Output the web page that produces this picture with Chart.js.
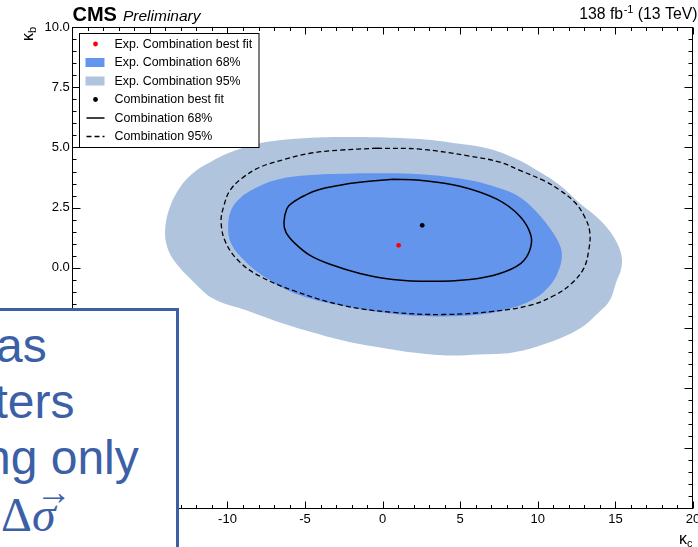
<!DOCTYPE html>
<html><head><meta charset="utf-8">
<script src="https://cdn.jsdelivr.net/npm/chart.js@4.4.0/dist/chart.umd.min.js"></script>
<style>
html,body{margin:0;padding:0;background:#fff;overflow:hidden;width:698px;height:547px;}
#wrap{position:absolute;left:0;top:0;width:698px;height:547px;}
#box{position:absolute;left:-10px;top:308px;width:189px;height:260px;box-sizing:border-box;border:3px solid #3b60a6;background:#fff;z-index:2;}
.ov{position:absolute;font-family:"Liberation Sans",Arial,sans-serif;font-size:48px;line-height:56px;color:#3b60a6;white-space:nowrap;z-index:3;}
</style></head>
<body>
<div id="wrap"><canvas id="c" width="698" height="547"></canvas></div>
<div id="box"></div>
<div class="ov" style="left:-4px;top:318px">as</div>
<div class="ov" style="left:-5.5px;top:374px">ters</div>
<div class="ov" style="left:-16px;top:430px">ng only</div>
<div class="ov" style="left:1px;top:487px;font-family:'Liberation Serif',serif">Δ<span style="position:relative;font-style:italic">σ<span style="position:absolute;left:4px;top:-24px;font-size:36px;font-style:normal;font-family:'Liberation Sans',sans-serif">→</span></span></div>
<script>
// ---- data (kappa_c, kappa_b) ----
const expBest = [[1.03, 0.93]];
const combBest = [[2.55, 1.76]];
const exp95 = [[-0.17,5.43],[2.40,5.35],[4.66,5.18],[6.72,4.97],[8.52,4.55],[9.94,4.05],[11.42,3.43],[12.70,2.68],[13.67,2.18],[14.44,1.68],[15.09,1.05],[15.41,0.43],[15.35,-0.11],[15.09,-0.53],[14.64,-1.36],[13.99,-1.82],[12.70,-2.53],[10.58,-3.15],[8.39,-3.53],[6.26,-3.61],[4.14,-3.65],[1.95,-3.53],[-0.17,-3.32],[-2.30,-3.07],[-4.49,-2.70],[-6.61,-2.28],[-8.74,-1.78],[-10.93,-1.28],[-12.28,-0.53],[-13.36,0.22],[-13.88,0.85],[-14.02,1.52],[-13.75,2.45],[-13.05,3.35],[-12.15,3.97],[-11.12,4.39],[-9.60,4.85],[-7.90,5.18],[-5.65,5.36],[-3.59,5.43]];
const exp68 = [[-1.46,3.93],[2.40,3.89],[5.62,3.64],[7.55,3.30],[8.84,2.93],[9.81,2.39],[10.78,1.64],[11.42,0.93],[11.55,0.43],[11.29,-0.20],[10.78,-0.74],[9.81,-1.28],[8.20,-1.70],[6.27,-1.95],[3.69,-2.03],[1.11,-1.95],[-2.11,-1.65],[-5.33,-1.15],[-7.58,-0.40],[-9.06,0.39],[-9.77,1.01],[-9.96,1.64],[-9.77,2.39],[-9.19,2.89],[-8.22,3.30],[-6.94,3.64],[-4.68,3.85]];
const comb95 = [[-0.37,4.97],[2.40,4.93],[5.62,4.64],[7.55,4.39],[8.84,4.05],[10.45,3.60],[11.42,3.22],[12.38,2.72],[13.03,2.10],[13.35,1.47],[13.28,0.72],[12.96,-0.03],[12.19,-0.65],[11.09,-1.15],[9.48,-1.57],[7.10,-1.82],[3.88,-1.95],[0.66,-1.86],[-2.56,-1.57],[-5.78,-0.95],[-7.90,-0.36],[-9.19,0.22],[-10.09,1.01],[-10.41,1.89],[-10.22,2.60],[-9.83,3.22],[-9.06,3.72],[-7.90,4.18],[-6.29,4.51],[-4.68,4.76],[-2.75,4.89]];
const comb68 = [[0.66,3.68],[2.40,3.64],[4.98,3.39],[7.36,2.85],[8.84,2.14],[9.55,1.35],[9.48,0.72],[8.91,0.18],[7.55,-0.24],[5.62,-0.49],[3.05,-0.57],[0.66,-0.49],[-1.46,-0.24],[-3.39,0.14],[-4.68,0.51],[-5.65,1.01],[-6.23,1.47],[-6.36,1.89],[-6.16,2.47],[-5.78,2.72],[-5.00,3.01],[-4.23,3.22],[-2.75,3.43],[-1.46,3.55]];
const legendLabels = ['Exp. Combination best fit','Exp. Combination 68%','Exp. Combination 95%','Combination best fit','Combination 68%','Combination 95%'];
const kcTicks = [-20,-15,-10,-5,0,5,10,15,20];
const kbTicks = [-10,-7.5,-5,-2.5,0,2.5,5,7.5,10];
const xRange = [-20, 20];
const yRange = [-10, 10];

const FONT = '"Liberation Sans", Arial, Helvetica, sans-serif';
Chart.defaults.font.family = FONT;
Chart.defaults.color = '#000';

const pts = a => a.map(([x, y]) => ({x, y}));
const closed = a => pts(a.concat([a[0]]));

const LIGHT = '#B0C4DE', DARK = '#6495ED';

const datasets = [
  {label: legendLabels[0], data: pts(expBest), pointRadius: 2.4, pointBackgroundColor: '#ff0000', pointBorderWidth: 0, showLine: false, order: 0, kind: 'point', color: '#ff0000'},
  {label: legendLabels[3], data: pts(combBest), pointRadius: 2.4, pointBackgroundColor: '#000', pointBorderWidth: 0, showLine: false, order: 0, kind: 'point', color: '#000'},
  {label: legendLabels[4], data: closed(comb68), showLine: true, borderColor: '#000', borderWidth: 1.5, pointRadius: 0, fill: false, tension: 0.38, order: 1, kind: 'line', color: '#000', dash: []},
  {label: legendLabels[5], data: closed(comb95), showLine: true, borderColor: '#000', borderWidth: 1.3, borderDash: [5, 3], pointRadius: 0, fill: false, tension: 0.38, order: 2, kind: 'line', color: '#000', dash: [5, 3]},
  {label: legendLabels[1], data: closed(exp68), showLine: true, borderColor: 'rgba(0,0,0,0)', borderWidth: 0, backgroundColor: DARK, pointRadius: 0, fill: 'shape', tension: 0.38, order: 3, kind: 'fill', color: DARK},
  {label: legendLabels[2], data: closed(exp95), showLine: true, borderColor: 'rgba(0,0,0,0)', borderWidth: 0, backgroundColor: LIGHT, pointRadius: 0, fill: 'shape', tension: 0.38, order: 4, kind: 'fill', color: LIGHT}
];

const decor = {
  id: 'decor',
  afterDatasetsDraw(chart) {
    const ctx = chart.ctx, a = chart.chartArea, xs = chart.scales.x, ys = chart.scales.y;
    const L = Math.round(a.left) + 0.5, R = Math.round(a.right) - 0.5, T = Math.round(a.top) + 0.5, B = Math.round(a.bottom) + 0.5;
    ctx.save();
    ctx.strokeStyle = '#000'; ctx.lineWidth = 1;
    ctx.strokeRect(L, T, R - L, B - T);
    ctx.beginPath();
    for (let v = xRange[0]; v <= xRange[1]; v += 1) {
      const px = Math.round(xs.getPixelForValue(v)) + 0.5;
      const len = (v % 5 === 0) ? 7 : 3.5;
      ctx.moveTo(px, B); ctx.lineTo(px, B - len);
      ctx.moveTo(px, T); ctx.lineTo(px, T + len);
    }
    for (let v = yRange[0]; v <= yRange[1] + 1e-9; v += 0.5) {
      const py = Math.round(ys.getPixelForValue(v)) + 0.5;
      const len = (Math.abs(v / 2.5 - Math.round(v / 2.5)) < 1e-6) ? 8 : 4;
      ctx.moveTo(L, py); ctx.lineTo(L + len, py);
      ctx.moveTo(R, py); ctx.lineTo(R - len, py);
    }
    ctx.stroke();
    ctx.restore();
  },
  afterDraw(chart) {
    const ctx = chart.ctx, a = chart.chartArea;
    ctx.save();
    // legend
    const x0 = Math.round(a.left + 6.7) + 0.5, y0 = Math.round(a.top + 5.7) + 0.5, w = 179.5, h = 114;
    ctx.fillStyle = '#fff'; ctx.fillRect(x0, y0, w, h);
    ctx.strokeStyle = '#000'; ctx.lineWidth = 1; ctx.strokeRect(x0, y0, w, h);
    const order = [0, 4, 5, 1, 2, 3];
    ctx.font = '12.4px ' + FONT; ctx.textBaseline = 'middle'; ctx.textAlign = 'left';
    order.forEach((di, i) => {
      const ds = chart.data.datasets[di];
      const cy = y0 + 10.5 + i * 18.5;
      const cx = x0 + 16;
      if (ds.kind === 'point') {
        ctx.fillStyle = ds.color; ctx.beginPath(); ctx.arc(cx, cy, 2.4, 0, Math.PI * 2); ctx.fill();
      } else if (ds.kind === 'fill') {
        ctx.fillStyle = ds.color; ctx.fillRect(cx - 10, cy - 4.5, 19, 9);
      } else {
        ctx.strokeStyle = ds.color; ctx.lineWidth = ds.borderWidth; ctx.setLineDash(ds.dash);
        ctx.beginPath(); ctx.moveTo(cx - 9, cy); ctx.lineTo(cx + 9, cy); ctx.stroke(); ctx.setLineDash([]);
      }
      ctx.fillStyle = '#000';
      ctx.fillText(ds.label, x0 + 35, cy + 0.5);
    });
    // header texts
    ctx.textBaseline = 'alphabetic';
    ctx.fillStyle = '#000';
    ctx.font = 'bold 20px ' + FONT; ctx.textAlign = 'left';
    ctx.fillText('CMS', 72.5, 21);
    ctx.font = 'italic 15.5px ' + FONT;
    ctx.fillText('Preliminary', 123, 20.5);
    // lumi
    const right = 697;
    ctx.font = '15.8px ' + FONT;
    const p3 = ' (13 TeV)', p1 = '138 fb';
    const w3 = ctx.measureText(p3).width, w1 = ctx.measureText(p1).width;
    ctx.font = '11px ' + FONT;
    const sup = '-1', w2 = ctx.measureText(sup).width;
    let x = right - w3 - w2 - w1;
    ctx.font = '15.8px ' + FONT; ctx.fillText(p1, x, 18.5);
    ctx.font = '11px ' + FONT; ctx.fillText(sup, x + w1 + 0.5, 12.5);
    ctx.font = '15.8px ' + FONT; ctx.fillText(p3, x + w1 + w2 + 0.5, 18.5);
    // axis titles
    ctx.font = '16px ' + FONT; ctx.textAlign = 'left';
    const kw = ctx.measureText('κ').width;
    ctx.font = '11px ' + FONT;
    const cw = ctx.measureText('c').width, bw = ctx.measureText('b').width;
    let xt = 692.5 - cw - kw;
    ctx.font = '16px ' + FONT; ctx.fillText('κ', xt, 544);
    ctx.font = '11px ' + FONT; ctx.fillText('c', xt + kw, 547);
    ctx.save();
    ctx.translate(33, 27);
    ctx.rotate(-Math.PI / 2);
    ctx.font = '16px ' + FONT; ctx.fillText('κ', -bw - kw, 0);
    ctx.font = '11px ' + FONT; ctx.fillText('b', -bw, 3);
    ctx.restore();
    ctx.restore();
  }
};

const noPad = s => { s.paddingLeft = 0; s.paddingRight = 0; s.paddingTop = 0; s.paddingBottom = 0; };

new Chart(document.getElementById('c'), {
  type: 'scatter',
  data: {datasets},
  options: {
    responsive: false,
    animation: false,
    events: [],
    layout: {padding: {left: 0, top: 27.3, right: 5, bottom: 0}, autoPadding: false},
    plugins: {legend: {display: false}, tooltip: {enabled: false}},
    scales: {
      x: {
        type: 'linear', min: xRange[0], max: xRange[1], position: 'bottom',
        grid: {display: false, drawTicks: false},
        border: {display: false},
        afterBuildTicks: s => { s.ticks = kcTicks.map(v => ({value: v})); },
        afterFit: s => { s.height = 39; noPad(s); },
        ticks: {autoSkip: false, maxRotation: 0, padding: 4, font: {size: 13}, color: '#000', callback: v => String(v)}
      },
      y: {
        type: 'linear', min: yRange[0], max: yRange[1],
        grid: {display: false, drawTicks: false},
        border: {display: false},
        afterBuildTicks: s => { s.ticks = kbTicks.map(v => ({value: v})); },
        afterFit: s => { s.width = 72.3; noPad(s); },
        ticks: {autoSkip: false, padding: 2.5, font: {size: 13}, color: '#000', callback: v => Number(v).toFixed(1)}
      }
    }
  },
  plugins: [decor]
});
</script>
</body></html>
